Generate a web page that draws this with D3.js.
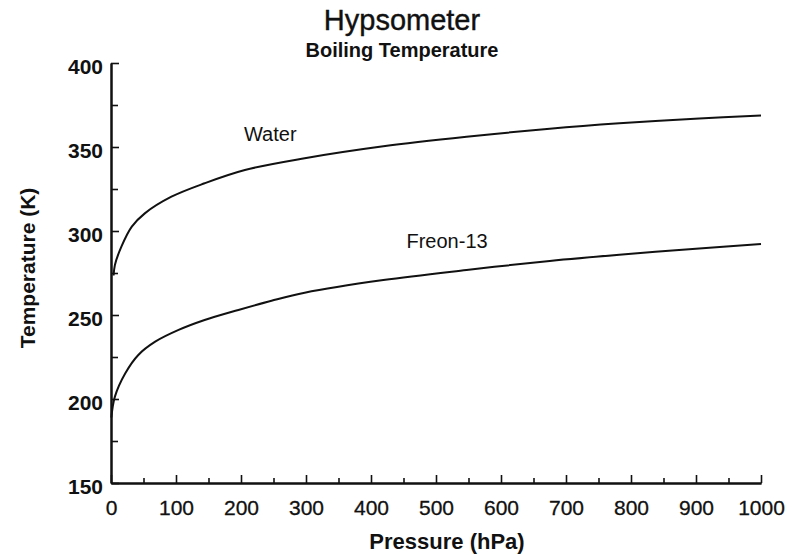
<!DOCTYPE html>
<html>
<head>
<meta charset="utf-8">
<script src="https://cdn.jsdelivr.net/npm/d3@7"></script>
<style>
  html, body { margin: 0; padding: 0; background: #fff; }
  svg { display: block; }
  text { font-family: "Liberation Sans", Arial, Helvetica, sans-serif; fill: #111; }
</style>
</head>
<body>
<svg id="chart" width="792" height="555"></svg>
<script>
// Boiling temperature (K) against pressure (hPa)
const waterPressure = [4, 6, 16, 32, 52, 93, 144, 206, 298, 419, 547, 675, 782, 905, 1000];
const waterTemp     = [273.5, 279.8, 290.7, 302.6, 310.5, 320.4, 328.4, 336.3, 343.3, 350.4, 356.1, 360.9, 364.1, 367.0, 368.8];

const freonPressure = [0.5, 6, 22, 42, 68, 104, 144, 196, 247, 298, 419, 547, 675, 782, 905, 1000];
const freonTemp     = [189, 201.4, 215.3, 226.2, 234.1, 241.1, 247.0, 253.0, 258.5, 263.3, 270.8, 276.8, 282.2, 285.9, 289.6, 292.3];

const xTickLabels = [0, 100, 200, 300, 400, 500, 600, 700, 800, 900, 1000];
const yTickLabels = [150, 200, 250, 300, 350, 400];

const seriesLabels = [
  { name: "Water",    p: 245, t: 353.5 },
  { name: "Freon-13", p: 517, t: 289.9 }
];

const svg = d3.select("#chart");

const x = d3.scaleLinear().domain([0, 1000]).range([111, 761]);
const y = d3.scaleLinear().domain([150, 400]).range([483, 63]);

// Titles
svg.append("text")
  .attr("x", 402).attr("y", 30)
  .attr("text-anchor", "middle")
  .style("font-size", "29px")
  .style("stroke", "#111").style("stroke-width", 0.4)
  .text("Hypsometer");

svg.append("text")
  .attr("x", 402).attr("y", 57)
  .attr("text-anchor", "middle")
  .style("font-size", "20px")
  .style("font-weight", "bold")
  .text("Boiling Temperature");

// X axis: major ticks every 100, minor every 50, pointing up into the plot
const xMinor = svg.append("g")
  .attr("transform", `translate(0,${y(150)})`)
  .call(d3.axisBottom(x).tickValues(d3.range(50, 1000, 100)).tickSizeInner(-5).tickSizeOuter(0).tickFormat(""));
const xMajor = svg.append("g")
  .attr("transform", `translate(0,${y(150)})`)
  .call(d3.axisBottom(x).tickValues(xTickLabels).tickSizeInner(-8).tickSizeOuter(0)
    .tickPadding(17).tickFormat(d3.format("d")));

// Y axis: ticks every 25, pointing right into the plot
const yMinor = svg.append("g")
  .attr("transform", `translate(${x(0)},0)`)
  .call(d3.axisLeft(y).tickValues(d3.range(175, 400, 50)).tickSizeInner(-7).tickSizeOuter(0).tickFormat(""));
const yMajor = svg.append("g")
  .attr("transform", `translate(${x(0)},0)`)
  .call(d3.axisLeft(y).tickValues(yTickLabels).tickSizeInner(-8).tickSizeOuter(0)
    .tickPadding(8).tickFormat(d3.format("d")));

[xMinor, xMajor, yMinor, yMajor].forEach(g => {
  g.selectAll("path.domain").attr("stroke", "#111").attr("stroke-width", 2);
  g.selectAll(".tick line").attr("stroke", "#111").attr("stroke-width", 1.6);
});

xMajor.selectAll(".tick text")
  .style("font-size", "21px")
  .style("stroke", "#111").style("stroke-width", 0.3)
  .attr("fill", "#111");

yMajor.selectAll(".tick text")
  .style("font-size", "21px")
  .style("font-weight", "bold")
  .attr("dy", "0.5em")
  .attr("fill", "#111");

// Axis titles
svg.append("text")
  .attr("x", 447).attr("y", 549)
  .attr("text-anchor", "middle")
  .style("font-size", "22px")
  .style("font-weight", "bold")
  .text("Pressure (hPa)");

svg.append("text")
  .attr("transform", "translate(35,268) rotate(-90)")
  .attr("text-anchor", "middle")
  .style("font-size", "21px")
  .style("font-weight", "bold")
  .text("Temperature (K)");

// Curves
const line = d3.line()
  .x(d => x(d[0]))
  .y(d => y(d[1]))
  .curve(d3.curveCatmullRom.alpha(0.5));

const waterData = waterPressure.map((p, i) => [p, waterTemp[i]]);
const freonData = freonPressure.map((p, i) => [p, freonTemp[i]]);

[waterData, freonData].forEach(data => {
  svg.append("path")
    .datum(data)
    .attr("fill", "none")
    .attr("stroke", "#111")
    .attr("stroke-width", 2)
    .attr("stroke-linejoin", "round")
    .attr("d", line);
});

// Series labels
svg.selectAll("text.series")
  .data(seriesLabels)
  .enter().append("text")
  .attr("class", "series")
  .attr("x", d => x(d.p))
  .attr("y", d => y(d.t))
  .attr("text-anchor", "middle")
  .style("font-size", "20px")
  .text(d => d.name);
</script>
</body>
</html>
